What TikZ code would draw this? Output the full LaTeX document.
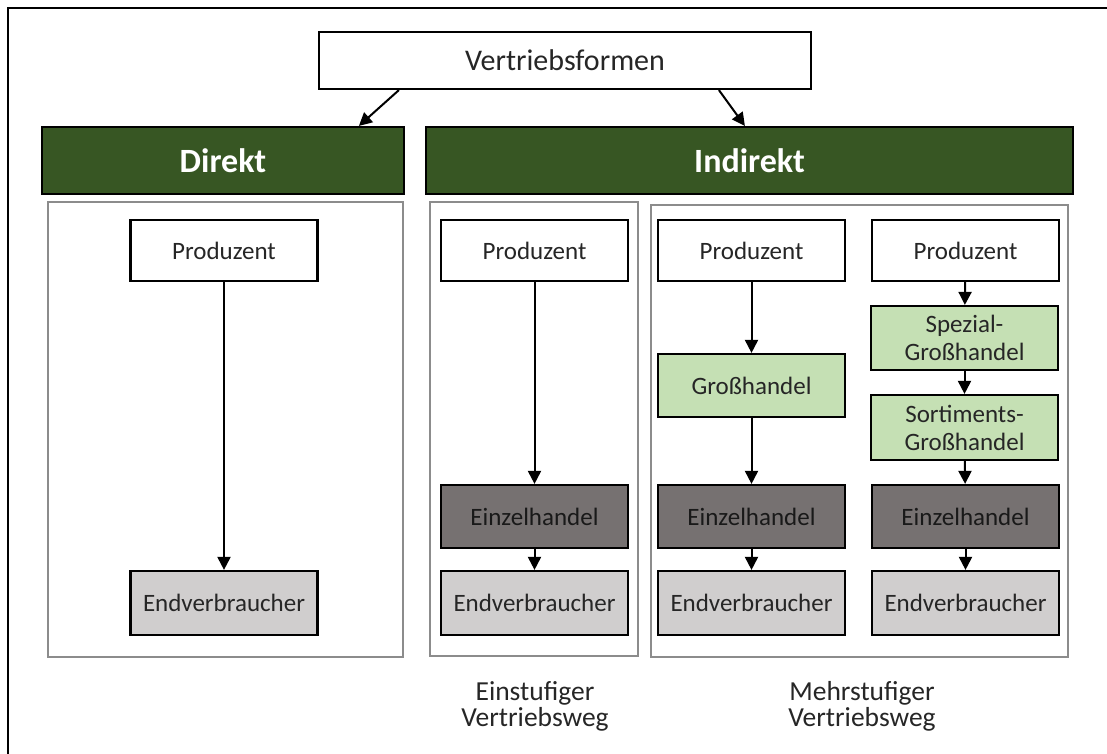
\documentclass[tikz,border=0pt]{standalone}
\usepackage{fontspec}
\setmainfont{Carlito}
\usetikzlibrary{arrows.meta}
\definecolor{bargreen}{HTML}{375623}
\definecolor{lightgreen}{HTML}{C5E0B4}
\definecolor{darkgrey}{HTML}{767171}
\definecolor{lightgrey}{HTML}{D0CECE}
\definecolor{panelgrey}{HTML}{8C8C8C}
\begin{document}
\begin{tikzpicture}[x=1pt,y=-1pt,
  box/.style={draw, line width=2.2pt, minimum width=187pt, minimum height=63pt, inner sep=0pt,
    align=center, text=black!85, font=\fontsize{25}{28}\selectfont},
  prod/.style={box, fill=white, minimum height=61pt},
  gross/.style={box, fill=lightgreen},
  einzel/.style={box, fill=darkgrey, text=black!90},
  endv/.style={box, fill=lightgrey, minimum height=64pt},
  bar/.style={draw, line width=2.2pt, fill=bargreen, minimum height=67pt, inner sep=0pt,
    text=white, font=\fontsize{34}{38}\selectfont\bfseries},
  panel/.style={draw=panelgrey, line width=1.5pt},
  arr/.style={-{Triangle[length=13pt,width=13pt]}, line width=2pt},
  lbl/.style={align=center, text=black!85, font=\fontsize{27.5}{26}\selectfont}]
\useasboundingbox (0,0) rectangle (1107,754);
\draw[line width=2pt] (8,754) -- (8,8) -- (1107,8);
% Kopf
\node[box, fill=white, minimum width=492pt, minimum height=57pt, font=\fontsize{30}{34}\selectfont] (top) at (565,60.5) {Vertriebsformen};
\node[bar, minimum width=362pt] (direkt) at (223,160.5) {Direkt};
\node[bar, minimum width=647pt] (indirekt) at (749.5,160.5) {Indirekt};
\draw[arr] ([xshift=81pt]top.south west) -- ([xshift=318pt]direkt.north west);
\draw[arr] ([xshift=401pt]top.south west) -- ([xshift=320pt]indirekt.north west);
% Rahmen
\draw[panel] (48,202) rectangle (403,657);
\draw[panel] (430,202) rectangle (638,656);
\draw[panel] (651,205) rectangle (1068,657);
% direkt
\node[prod] (p1) at (224,250.5) {Produzent};
\node[endv] (e1) at (224,603) {Endverbraucher};
\draw[arr] (p1) -- (e1);
% einstufig
\node[prod] (p2) at (534.5,250.5) {Produzent};
\node[einzel] (h2) at (534.5,516.5) {Einzelhandel};
\node[endv] (e2) at (534.5,603) {Endverbraucher};
\draw[arr] (p2) -- (h2);
\draw[arr] (h2) -- (e2);
% mehrstufig 1
\node[prod] (p3) at (751.5,250.5) {Produzent};
\node[gross] (g3) at (751.5,385.5) {Großhandel};
\node[einzel] (h3) at (751.5,516.5) {Einzelhandel};
\node[endv] (e3) at (751.5,603) {Endverbraucher};
\draw[arr] (p3) -- (g3);
\draw[arr] (g3) -- (h3);
\draw[arr] (h3) -- (e3);
% mehrstufig 2
\node[prod] (p4) at (965.5,250.5) {Produzent};
\node[gross, minimum height=64pt] (s4) at (964.5,338) {Spezial-\\Großhandel};
\node[gross, minimum height=65pt] (t4) at (964.5,427.5) {Sortiments-\\Großhandel};
\node[einzel] (h4) at (965.5,516.5) {Einzelhandel};
\node[endv] (e4) at (965.5,603) {Endverbraucher};
\draw[arr] (p4) -- (s4);
\draw[arr] (s4) -- (t4);
\draw[arr] (t4) -- (h4);
\draw[arr] (h4) -- (e4);
% Beschriftung
\node[lbl] (ein) at (535,706) {Einstufiger\\Vertriebsweg};
\node[lbl] (mehr) at (862,706) {Mehrstufiger\\Vertriebsweg};
\end{tikzpicture}
\end{document}
